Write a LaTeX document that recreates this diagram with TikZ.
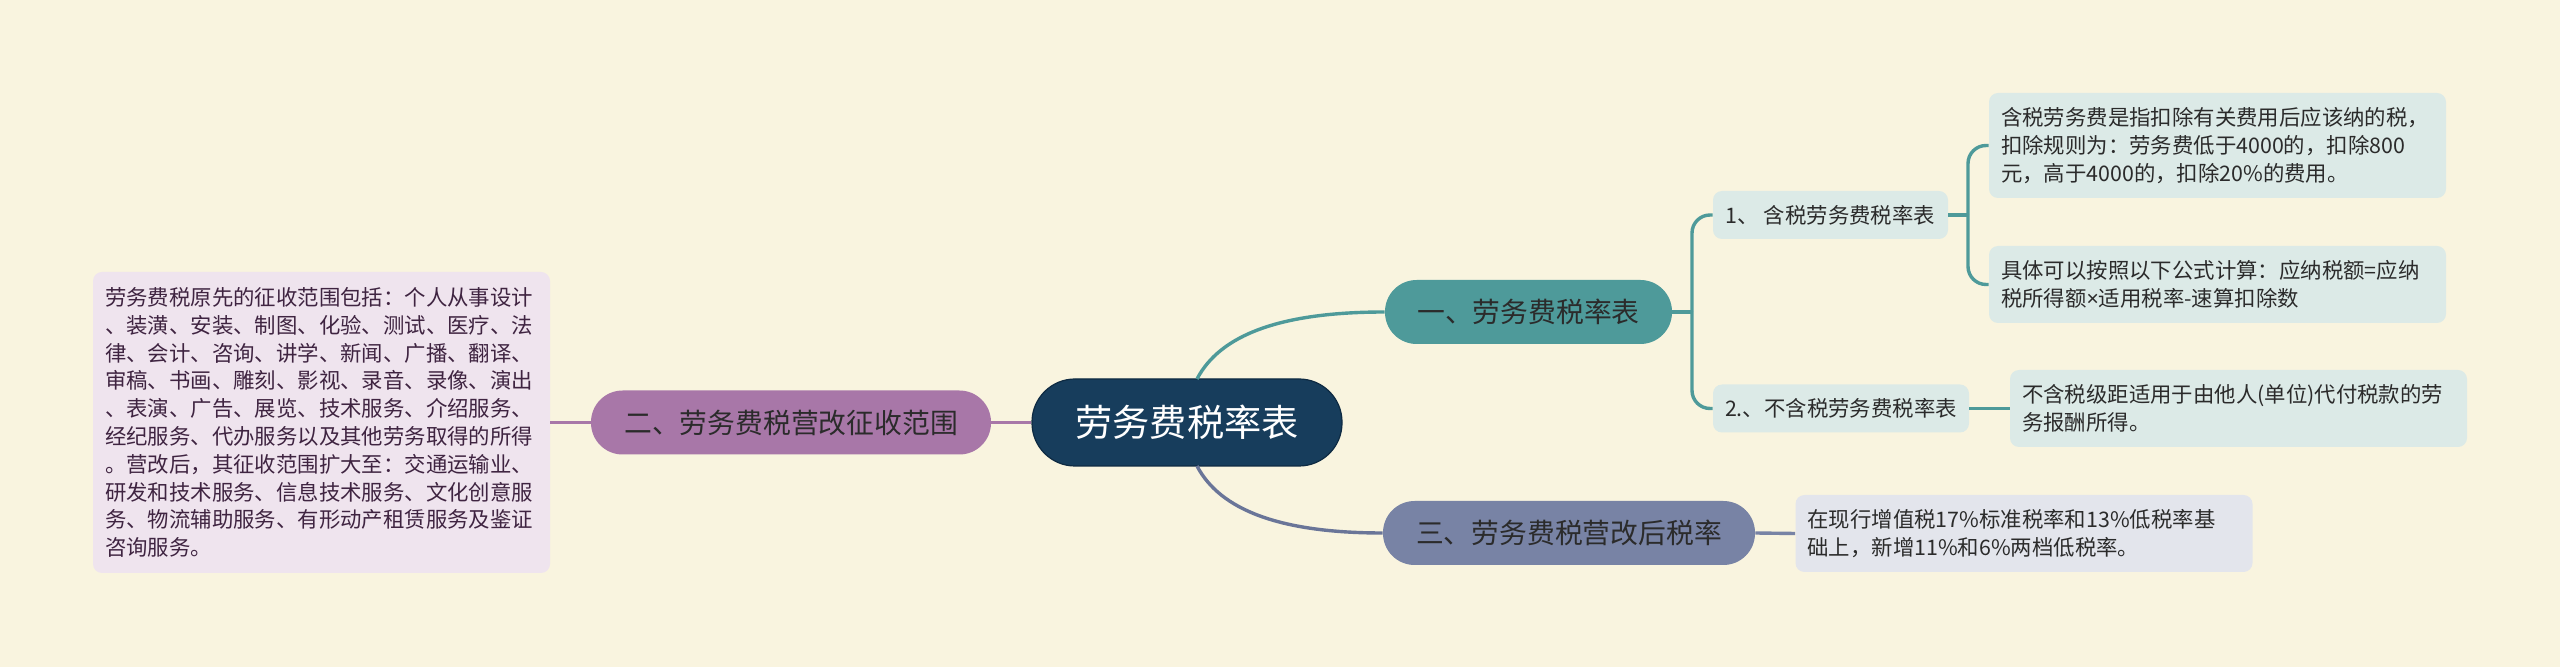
\documentclass[tikz,border=0pt]{standalone}
\usepackage{fontspec}
\setmainfont{Noto Sans CJK SC}
\newfontfamily\latinfont{Noto Sans}
\usetikzlibrary{calc,positioning}

\definecolor{bgcream}{HTML}{F9F4DF}
\definecolor{rootblue}{HTML}{173D5C}
\definecolor{rootedge}{HTML}{0E2A42}
\definecolor{tealmain}{HTML}{4E9A9A}
\definecolor{plummain}{HTML}{A877A8}
\definecolor{slatemain}{HTML}{7883A5}
\definecolor{slateline}{HTML}{6A7598}
\definecolor{tealpale}{HTML}{DCEAE7}
\definecolor{plumpale}{HTML}{EFE4EE}
\definecolor{slatepale}{HTML}{E3E5EC}
\definecolor{inkdark}{HTML}{2B2B2B}
\definecolor{inkplum}{HTML}{3F2441}

\begin{document}
\begin{tikzpicture}[x=0.5pt,y=-0.5pt,
    rootbox/.style={fill=rootblue,draw=rootedge,line width=0.6pt,text=white,
        rounded corners=21.5pt,minimum width=155pt,minimum height=43.5pt,
        inner sep=0pt,font=\fontsize{18.6}{22}\selectfont},
    mainbox/.style={rounded corners=15.8pt,minimum height=32pt,inner sep=0pt,
        text=inkdark,font=\fontsize{13.9}{16}\selectfont},
    subbox/.style={fill=tealpale,rounded corners=4.5pt,minimum height=24pt,
        inner sep=0pt,text=inkdark,font=\fontsize{10.7}{13.9}\selectfont},
    leafbox/.style={rounded corners=4.5pt,inner xsep=6pt,inner ysep=0pt,
        text width=216.5pt,align=left,text=inkdark,
        font=\fontsize{10.7}{13.9}\selectfont},
    link/.style={line width=1.7pt}]

    % Canvas
    \fill[bgcream] (0,0) rectangle (2560,667);
    \useasboundingbox (0,0) rectangle (2560,667);

    % Centre and main branches
    \node[rootbox] (root) at (1187,422.5) {劳务费税率表};
    \node[mainbox,fill=tealmain,minimum width=143.5pt] (rate) at (1528.5,312) {一、劳务费税率表};
    \node[mainbox,fill=plummain,minimum width=200pt] (scope) at (791,422.5) {二、劳务费税营改征收范围};
    \node[mainbox,fill=slatemain,minimum width=186pt] (after) at (1569,533) {三、劳务费税营改后税率};

    % Second level
    \node[subbox,minimum width=117.5pt] (incl) at (1830.5,215) {1、 含税劳务费税率表};
    \node[subbox,minimum width=128pt] (excl) at (1841,408.5) {2.、不含税劳务费税率表};

    % Leaves
    \node[leafbox,fill=tealpale,minimum height=52.5pt] (inclrule) at (2217.5,145.5)
        {含税劳务费是指扣除有关费用后应该纳的税，\\扣除规则为：劳务费低于4000的，扣除800\\元，高于4000的，扣除20\%的费用。};
    \node[leafbox,fill=tealpale,minimum height=38.5pt] (inclcalc) at (2217.5,284.5)
        {具体可以按照以下公式计算：应纳税额=应纳\\税所得额{\latinfont ×}适用税率-速算扣除数};
    \node[leafbox,fill=tealpale,minimum height=38.5pt] (exclrule) at (2238.5,408.5)
        {不含税级距适用于由他人(单位)代付税款的劳\\务报酬所得。};
    \node[leafbox,fill=slatepale,minimum height=38.5pt] (afterleaf) at (2024,533.5)
        {在现行增值税17\%标准税率和13\%低税率基\\础上，新增11\%和6\%两档低税率。};
    \node[leafbox,fill=plumpale,text=inkplum,minimum height=150.5pt] (scopeleaf) at (321.5,422.5)
        {劳务费税原先的征收范围包括：个人从事设计\\、装潢、安装、制图、化验、测试、医疗、法\\律、会计、咨询、讲学、新闻、广播、翻译、\\审稿、书画、雕刻、影视、录音、录像、演出\\、表演、广告、展览、技术服务、介绍服务、\\经纪服务、代办服务以及其他劳务取得的所得\\。营改后，其征收范围扩大至：交通运输业、\\研发和技术服务、信息技术服务、文化创意服\\务、物流辅助服务、有形动产租赁服务及鉴证\\咨询服务。};

    % Root to main branches
    \coordinate (rtop) at (1197,379);
    \coordinate (rbot) at (1197,466);
    \draw[link,tealmain] (rtop) .. controls (1220,335) and (1280,312) .. (rate.west);
    \draw[link,slateline] (rbot) .. controls (1220,510) and (1280,533) .. (after.west);
    \draw[link,plummain] (root.west) -- (scope.east);
    \draw[link,plummain] (scope.west) -- (scopeleaf.east);
    \draw[link,slatemain] (after.east) -- (afterleaf.west);

    % Brackets on the right
    \coordinate (fork1) at (1692,312);
    \draw[link,tealmain] (rate.east) -- (fork1);
    \draw[link,tealmain,rounded corners=9pt] (fork1) |- (incl.west);
    \draw[link,tealmain,rounded corners=9pt] (fork1) |- (excl.west);
    \coordinate (fork2) at (1968,215);
    \draw[link,tealmain] (incl.east) -- (fork2);
    \draw[link,tealmain,rounded corners=9pt] (fork2) |- (inclrule.west);
    \draw[link,tealmain,rounded corners=9pt] (fork2) |- (inclcalc.west);
    \draw[link,tealmain] (excl.east) -- (exclrule.west);
\end{tikzpicture}
\end{document}
